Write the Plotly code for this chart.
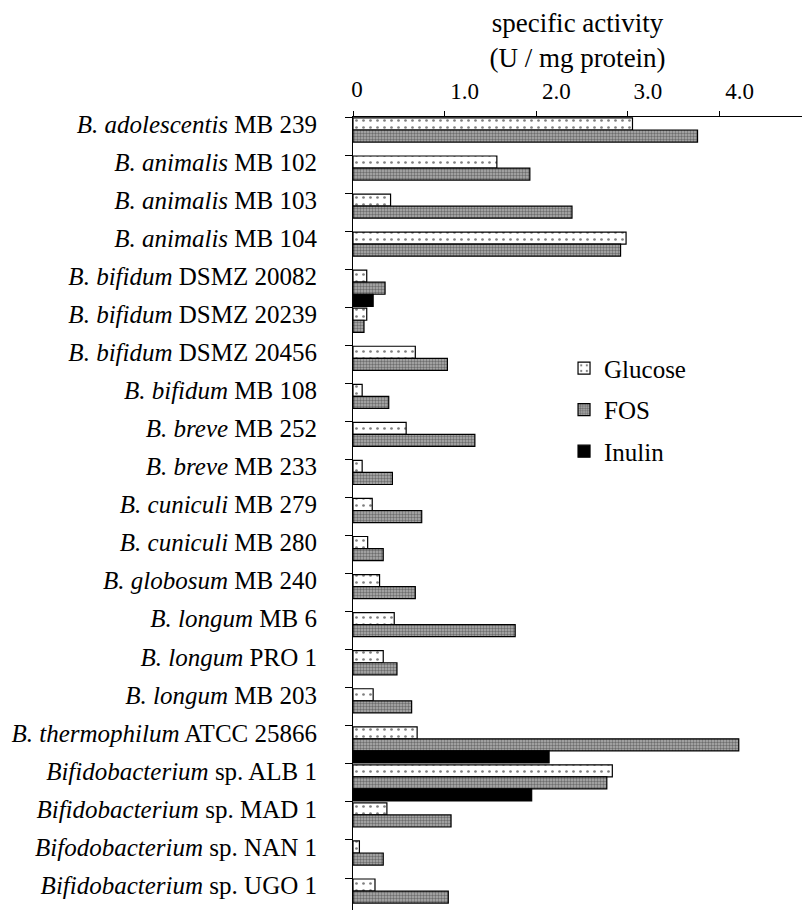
import plotly.graph_objects as go

species = ["B. adolescentis", "B. animalis", "B. animalis", "B. animalis",
           "B. bifidum", "B. bifidum", "B. bifidum", "B. bifidum",
           "B. breve", "B. breve", "B. cuniculi", "B. cuniculi",
           "B. globosum", "B. longum", "B. longum", "B. longum",
           "B. thermophilum", "Bifidobacterium", "Bifidobacterium",
           "Bifodobacterium", "Bifidobacterium"]
strains = ["MB 239", "MB 102", "MB 103", "MB 104",
           "DSMZ 20082", "DSMZ 20239", "DSMZ 20456", "MB 108",
           "MB 252", "MB 233", "MB 279", "MB 280",
           "MB 240", "MB 6", "PRO 1", "MB 203",
           "ATCC 25866", "sp. ALB 1", "sp. MAD 1", "sp. NAN 1", "sp. UGO 1"]

glucose = [3.05, 1.57, 0.41, 2.98, 0.15, 0.15, 0.68, 0.10, 0.58, 0.10, 0.21,
           0.16, 0.29, 0.45, 0.33, 0.22, 0.70, 2.83, 0.37, 0.07, 0.24]
fos = [3.76, 1.93, 2.39, 2.92, 0.35, 0.12, 1.03, 0.39, 1.33, 0.43, 0.75,
       0.33, 0.68, 1.77, 0.48, 0.64, 4.21, 2.77, 1.07, 0.33, 1.04]
inulin = [None, None, None, None, 0.22, None, None, None, None, None, None,
          None, None, None, None, None, 2.14, 1.95, None, None, None]

xtick_vals = [0, 1, 2, 3, 4]
xtick_text = ["0", "1.0", "2.0", "3.0", "4.0"]

labels = [f"<i>{s}</i> {t}" for s, t in zip(species, strains)]

FONT = "Liberation Serif"

fig = go.Figure()
fig.add_trace(go.Bar(
    y=labels, x=glucose, orientation="h", name="Glucose",
    legendgroup="g",
    marker=dict(color="white", line=dict(color="black", width=1.2),
                pattern=dict(shape=".", size=7, solidity=0.12,
                             fgcolor="black", bgcolor="white")),
))
fig.add_trace(go.Bar(
    y=labels, x=fos, orientation="h", name="FOS",
    legendgroup="f",
    marker=dict(color="#8a8a8a", line=dict(color="black", width=1.2),
                pattern=dict(shape=".", size=3, solidity=0.5,
                             fgcolor="#2a2a2a", bgcolor="#b0b0b0")),
))
fig.add_trace(go.Bar(
    y=labels, x=inulin, orientation="h", name="Inulin",
    legendgroup="i",
    marker=dict(color="black", line=dict(color="black", width=1.2)),
))
# empty helper trace so the secondary top axis (tick labels) is drawn
fig.add_trace(go.Scatter(x=[None], y=[None], xaxis="x2", yaxis="y",
                         showlegend=False, hoverinfo="skip"))

n = len(labels)
fig.update_layout(
    width=802, height=910,
    margin=dict(l=353, r=0, t=117, b=0),
    paper_bgcolor="white", plot_bgcolor="white",
    font=dict(family=FONT, color="black", size=25),
    barmode="group", bargap=0.05, bargroupgap=0,
    showlegend=True,
    legend=dict(x=0.47, y=0.712, xanchor="left", yanchor="top",
                font=dict(family=FONT, size=25, color="black"),
                tracegroupgap=6, traceorder="grouped",
                bgcolor="rgba(0,0,0,0)"),
    xaxis=dict(side="top", range=[0, 4.9], tickvals=xtick_vals,
               ticktext=["0", "", "", "", ""],
               ticks="outside", ticklen=5, tickcolor="black", tickwidth=1,
               showline=True, linecolor="black", linewidth=1,
               showgrid=False, zeroline=False,
               tickfont=dict(family=FONT, size=23), ticklabelshift=4,
               ticklabelstandoff=5,
               title=dict(text="specific activity<br>(U / mg protein)",
                          font=dict(family=FONT, size=27), standoff=1)),
    xaxis2=dict(side="top", overlaying="x", range=[0, 4.9],
                tickvals=xtick_vals[1:], ticktext=xtick_text[1:],
                ticks="", showline=False, showgrid=False, zeroline=False,
                tickfont=dict(family=FONT, size=23), ticklabelshift=20,
                ticklabelstandoff=12, anchor="y"),
    yaxis=dict(type="category", range=[n - 0.66, -0.5],
               tickson="boundaries", ticks="outside", ticklen=7,
               tickcolor="black", tickwidth=1,
               showline=True, linecolor="black", linewidth=1,
               showgrid=False, zeroline=False,
               tickfont=dict(family=FONT, size=25),
               ticklabelshift=12, ticklabelstandoff=30),
)

fig.write_html("out.html")
